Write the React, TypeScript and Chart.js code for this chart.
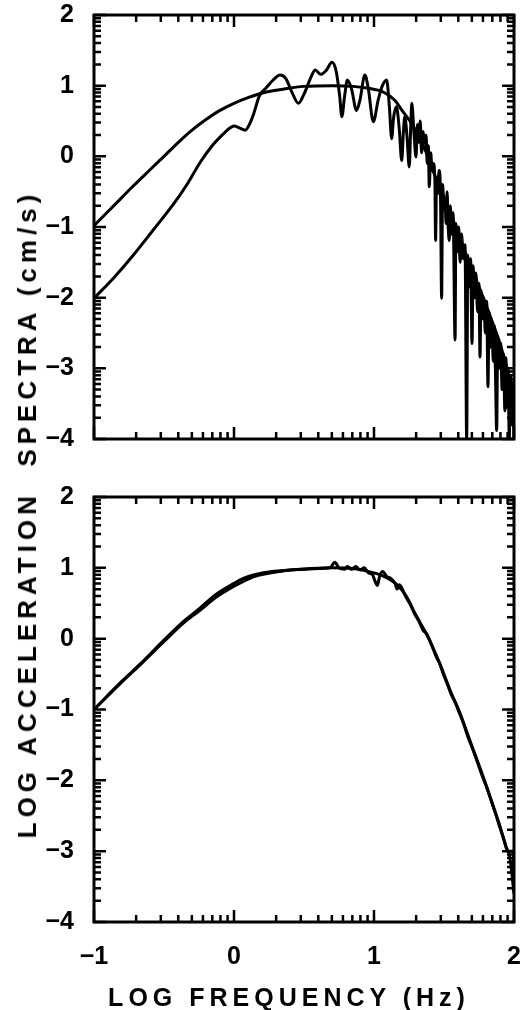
import React, { useEffect, useRef } from 'react';
import { Chart, registerables } from 'chart.js';

Chart.register(...registerables);

// ---- axes ----
const X_MIN = -1;
const X_MAX = 2;
const Y_MIN = -4;
const Y_MAX = 2;
const xMajorTicks = [-1, 0, 1, 2];
const xTickLabels = ['\u22121', '0', '1', '2'];
const yMajorTicks = [-4, -3, -2, -1, 0, 1, 2];
const yTickLabels = ['\u22124', '\u22123', '\u22122', '\u22121', '0', '1', '2'];
const minorMultipliers = [2, 3, 4, 5, 6, 7, 8, 9];

const xTitle = 'LOG FREQUENCY (Hz)';
const yTitle = 'LOG ACCELERATION\u00a0\u00a0SPECTRA (cm/s)';

// ---- top panel: smooth model ----
const topModelX = [-1.0, -0.9, -0.8, -0.72, -0.6, -0.5, -0.386, -0.3, -0.2, -0.1, 0.0, 0.1, 0.21, 0.35, 0.5, 0.7, 0.85, 0.97, 1.066, 1.15, 1.2, 1.27, 1.32, 1.376, 1.42, 1.47, 1.52, 1.566, 1.61, 1.65, 1.7, 1.75, 1.8, 1.85, 1.9, 1.95, 2.0];
const topModelY = [-0.98, -0.78, -0.58, -0.42, -0.19, 0.0, 0.22, 0.37, 0.52, 0.65, 0.75, 0.83, 0.9, 0.95, 0.99, 1.0, 0.99, 0.96, 0.91, 0.79, 0.65, 0.46, 0.28, 0.04, -0.2, -0.43, -0.68, -0.91, -1.13, -1.35, -1.6, -1.85, -2.1, -2.37, -2.65, -3.0, -3.45];

// ---- top panel: observed spectrum ----
const topDataX = [
  -1.0, -0.85, -0.72, -0.58, -0.43, -0.33, -0.24, -0.16, -0.08, -0.03, 0.0, 0.04, 0.08, 0.11, 0.14, 0.18, 0.23, 0.28, 0.33, 0.37,
  0.42, 0.46, 0.5, 0.55, 0.58, 0.62, 0.66, 0.7, 0.73, 0.755, 0.77, 0.79, 0.81, 0.84, 0.875, 0.9, 0.935, 0.96, 0.995, 1.03,
  1.06, 1.09, 1.11, 1.126, 1.14, 1.16, 1.18, 1.198, 1.21, 1.22, 1.235, 1.252, 1.262, 1.27, 1.285, 1.3, 1.31, 1.32, 1.33, 1.34,
  1.35, 1.364, 1.372, 1.38, 1.388, 1.395, 1.405, 1.415, 1.424, 1.435, 1.44, 1.447, 1.455, 1.465, 1.475, 1.483, 1.49, 1.5, 1.507, 1.515,
  1.522, 1.53, 1.538, 1.545, 1.555, 1.565, 1.579, 1.585, 1.595, 1.605, 1.615, 1.625, 1.638, 1.65, 1.662, 1.67, 1.68, 1.69, 1.7, 1.708,
  1.718, 1.728, 1.74, 1.75, 1.757, 1.765, 1.775, 1.785, 1.795, 1.805, 1.814, 1.822, 1.832, 1.842, 1.852, 1.86, 1.868, 1.876, 1.884, 1.894,
  1.905, 1.915, 1.925, 1.935, 1.942, 1.95, 1.958, 1.966, 1.974, 1.982, 1.99, 2.0,
];
const topDataY = [
  -2.01, -1.7, -1.4, -1.05, -0.67, -0.38, -0.08, 0.14, 0.31, 0.4, 0.43, 0.4, 0.37, 0.45, 0.6, 0.85, 0.97, 1.08, 1.15, 1.1,
  0.88, 0.75, 0.88, 1.12, 1.22, 1.16, 1.22, 1.33, 1.2, 0.85, 0.56, 0.85, 1.08, 0.95, 0.65, 0.8, 1.15, 0.95, 0.49, 0.8,
  1.0, 1.08, 0.7, 0.25, 0.55, 0.7, 0.4, -0.06, 0.35, 0.56, 0.3, -0.15, 0.4, 0.75, 0.35, -0.01, 0.45, 0.2, 0.5, 0.05,
  0.35, 0.18, 0.3, -0.1, 0.15, -0.43, 0.05, -0.2, -0.1, -0.35, -1.19, -0.3, -0.53, -0.2, -0.55, -2.01, -0.4, -0.75, -0.6, -0.95,
  -0.5, -1.0, -1.19, -0.7, -1.1, -0.8, -2.6, -0.95, -1.35, -1.0, -1.5, -1.1, -1.45, -1.25, -4.0, -1.4, -1.85, -1.45, -2.65, -1.55,
  -2.0, -1.65, -2.2, -1.8, -2.84, -1.9, -2.3, -2.0, -2.5, -2.05, -3.26, -2.2, -2.7, -2.35, -2.9, -2.4, -3.1, -3.88, -2.55, -3.0,
  -2.65, -3.3, -2.8, -3.6, -2.85, -3.55, -3.0, -4.0, -3.1, -3.8, -3.2, -4.0,
];

// ---- bottom panel: smooth model ----
const botModelX = [-1.0, -0.8, -0.671, -0.5, -0.362, -0.25, -0.124, 0.0, 0.067, 0.21, 0.4, 0.55, 0.7, 0.85, 0.995, 1.06, 1.16, 1.23, 1.3, 1.376, 1.448, 1.495, 1.55, 1.614, 1.66, 1.709, 1.76, 1.805, 1.85, 1.9, 1.94, 1.971, 2.0];
const botModelY = [-1.0, -0.6, -0.36, -0.02, 0.24, 0.42, 0.63, 0.78, 0.85, 0.93, 0.97, 0.99, 1.0, 0.99, 0.93, 0.89, 0.77, 0.6, 0.33, 0.06, -0.25, -0.48, -0.76, -1.05, -1.3, -1.57, -1.84, -2.09, -2.36, -2.65, -2.92, -3.1, -3.6];

// ---- bottom panel: corrected spectrum ----
const botDataX = [-1.0, -0.8, -0.671, -0.5, -0.362, -0.25, -0.124, 0.0, 0.067, 0.15, 0.21, 0.3, 0.4, 0.5, 0.6, 0.686, 0.72, 0.75, 0.79, 0.81, 0.84, 0.87, 0.9, 0.93, 0.96, 0.99, 1.01, 1.024, 1.04, 1.062, 1.09, 1.12, 1.15, 1.165, 1.18, 1.23, 1.26, 1.29, 1.32, 1.35, 1.376, 1.41, 1.448, 1.47, 1.495, 1.52, 1.55, 1.58, 1.614, 1.64, 1.67, 1.709, 1.74, 1.77, 1.805, 1.84, 1.87, 1.9, 1.93, 1.955, 1.995, 2.0];
const botDataY = [-1.0, -0.61, -0.37, -0.04, 0.22, 0.39, 0.59, 0.74, 0.81, 0.88, 0.91, 0.94, 0.97, 0.98, 0.99, 1.0, 1.08, 1.0, 0.98, 1.02, 0.98, 1.02, 0.97, 1.0, 0.93, 0.9, 0.8, 0.75, 0.88, 0.95, 0.88, 0.85, 0.78, 0.7, 0.76, 0.58, 0.48, 0.35, 0.25, 0.12, 0.07, -0.08, -0.27, -0.35, -0.5, -0.62, -0.78, -0.9, -1.07, -1.2, -1.38, -1.58, -1.75, -1.92, -2.1, -2.3, -2.48, -2.67, -2.85, -3.0, -3.0, -3.5];

const FONT = "'Liberation Sans', Arial, Helvetica, sans-serif";
const WIDTH = 526;

const toPoints = (xs: number[], ys: number[]) => xs.map((x, i) => ({ x, y: ys[i] }));

const frameTicksPlugin = {
  id: 'frameTicks',
  afterDatasetsDraw(chart: any) {
    const { ctx, chartArea: a, scales } = chart;
    const xs = scales.x;
    const ys = scales.y;
    const MAJOR = 12;
    const MINOR = 7;
    ctx.save();
    ctx.strokeStyle = '#000';
    ctx.lineWidth = 2.5;
    ctx.lineCap = 'butt';
    ctx.beginPath();
    const seg = (x1: number, y1: number, x2: number, y2: number) => {
      ctx.moveTo(x1, y1);
      ctx.lineTo(x2, y2);
    };
    const xTick = (v: number, len: number) => {
      const px = xs.getPixelForValue(v);
      seg(px, a.bottom, px, a.bottom - len);
      seg(px, a.top, px, a.top + len);
    };
    const yTick = (v: number, len: number) => {
      const py = ys.getPixelForValue(v);
      seg(a.left, py, a.left + len, py);
      seg(a.right, py, a.right - len, py);
    };
    xMajorTicks.forEach((v) => xTick(v, MAJOR));
    for (let n = X_MIN; n < X_MAX; n++) {
      minorMultipliers.forEach((k) => xTick(n + Math.log10(k), MINOR));
    }
    yMajorTicks.forEach((v) => yTick(v, MAJOR));
    for (let n = Y_MIN; n < Y_MAX; n++) {
      minorMultipliers.forEach((k) => yTick(n + Math.log10(k), MINOR));
    }
    ctx.stroke();
    ctx.lineWidth = 3;
    ctx.strokeRect(a.left, a.top, a.right - a.left, a.bottom - a.top);
    ctx.restore();
  },
};

function makeConfig(
  datasets: { x: number[]; y: number[] }[],
  showX: boolean,
  padding: { left: number; right: number; top: number; bottom: number },
  xAxisHeight: number
): any {
  return {
    type: 'scatter',
    data: {
      datasets: datasets.map((d) => ({
        data: toPoints(d.x, d.y),
        showLine: true,
        borderColor: '#000',
        backgroundColor: '#000',
        borderWidth: 3,
        pointRadius: 0,
        pointHoverRadius: 0,
        cubicInterpolationMode: 'monotone',
        clip: 1,
      })),
    },
    options: {
      animation: false,
      responsive: false,
      devicePixelRatio: 1,
      events: [],
      layout: { padding },
      plugins: { legend: { display: false }, tooltip: { enabled: false }, title: { display: false } },
      scales: {
        x: {
          type: 'linear',
          min: X_MIN,
          max: X_MAX,
          display: showX,
          grid: { display: false },
          border: { display: false },
          afterBuildTicks: (scale: any) => {
            scale.ticks = xMajorTicks.map((v) => ({ value: v }));
          },
          afterFit: (scale: any) => {
            if (showX) scale.height = xAxisHeight;
            scale.paddingLeft = 0;
            scale.paddingRight = 0;
          },
          ticks: {
            autoSkip: false,
            maxRotation: 0,
            padding: 12,
            color: '#000',
            font: { family: FONT, size: 25, weight: 'bold' },
            callback: (v: number) => {
              const i = xMajorTicks.indexOf(v);
              return i >= 0 ? xTickLabels[i] : '';
            },
          },
        },
        y: {
          type: 'linear',
          min: Y_MIN,
          max: Y_MAX,
          grid: { display: false },
          border: { display: false },
          afterBuildTicks: (scale: any) => {
            scale.ticks = yMajorTicks.map((v) => ({ value: v }));
          },
          afterFit: (scale: any) => {
            scale.width = 94;
            scale.paddingTop = 0;
            scale.paddingBottom = 0;
          },
          ticks: {
            autoSkip: false,
            padding: 12,
            color: '#000',
            font: { family: FONT, size: 25, weight: 'bold' },
            callback: (v: number) => {
              const i = yMajorTicks.indexOf(v);
              return i >= 0 ? yTickLabels[i] : '';
            },
          },
        },
      },
    },
    plugins: [frameTicksPlugin],
  };
}

export default function App() {
  const topRef = useRef<HTMLCanvasElement | null>(null);
  const botRef = useRef<HTMLCanvasElement | null>(null);

  useEffect(() => {
    const top = new Chart(
      topRef.current as HTMLCanvasElement,
      makeConfig(
        [
          { x: topModelX, y: topModelY },
          { x: topDataX, y: topDataY },
        ],
        false,
        { left: 0, right: 12, top: 15, bottom: 31 },
        0
      )
    );
    const bot = new Chart(
      botRef.current as HTMLCanvasElement,
      makeConfig(
        [
          { x: botModelX, y: botModelY },
          { x: botDataX, y: botDataY },
        ],
        true,
        { left: 0, right: 12, top: 27, bottom: 0 },
        88
      )
    );
    return () => {
      top.destroy();
      bot.destroy();
    };
  }, []);

  const titleStyle: React.CSSProperties = {
    position: 'absolute',
    fontFamily: FONT,
    fontWeight: 'bold',
    fontSize: 26,
    letterSpacing: '5px',
    lineHeight: 1,
    whiteSpace: 'nowrap',
    color: '#000',
  };

  return (
    <div style={{ position: 'absolute', left: 0, top: 0, width: WIDTH, height: 1010, background: '#fff', overflow: 'hidden' }}>
      <canvas ref={topRef} width={WIDTH} height={470} style={{ position: 'absolute', left: 0, top: 0, width: WIDTH, height: 470 }} />
      <canvas ref={botRef} width={WIDTH} height={540} style={{ position: 'absolute', left: 0, top: 470, width: WIDTH, height: 540 }} />
      <div style={{ ...titleStyle, fontSize: 25, left: 289, top: 997, transform: 'translate(-50%, -50%)' }}>{xTitle}</div>
      <div style={{ ...titleStyle, left: 27, top: 514, transform: 'translate(-50%, -50%) rotate(-90deg)' }}>{yTitle}</div>
    </div>
  );
}
